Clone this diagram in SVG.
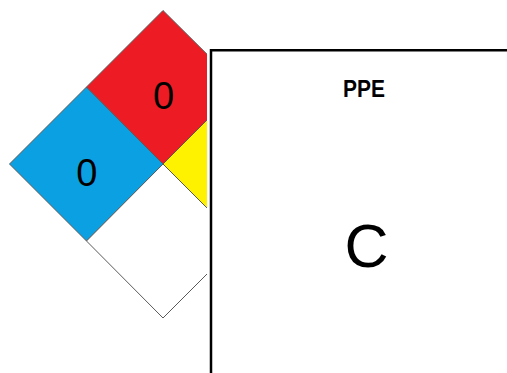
<svg xmlns="http://www.w3.org/2000/svg" width="507" height="373" viewBox="0 0 507 373">
<defs>
<style>
.q{stroke:#5a5a5a;stroke-width:1;stroke-linejoin:miter}
.num{font-family:"Liberation Sans",Arial,sans-serif;font-size:38px;fill:#000;text-anchor:middle}
</style>
<clipPath id="cl"><rect x="0" y="0" width="207" height="373"/></clipPath>
</defs>
<rect width="507" height="373" fill="#fff"/>
<g id="diamond" clip-path="url(#cl)">
<g id="health"><polygon class="q" points="9.5,164 86.5,87 163,164 86.5,241" fill="#0AA0E2"/></g>
<g id="flammability"><polygon class="q" points="86.5,87 163,10.5 240,87 163,164" fill="#ED1C24"/></g>
<g id="instability"><polygon class="q" points="163,164 240,87 317,164 240,241" fill="#FFF200"/></g>
<g id="special"><polygon class="q" points="86.5,241 163,164 240,241 163,318" fill="#fff" stroke="#777"/></g>
</g>
<text class="num" x="163.5" y="108.5">0</text>
<text class="num" x="86.7" y="186">0</text>
<g id="ppe-box">
<path d="M211,373 V50.2 H507" fill="none" stroke="#000" stroke-width="2.5"/>
<text x="364" y="96.5" font-family="'Liberation Sans',Arial,sans-serif" font-weight="bold" font-size="24" text-anchor="middle" textLength="42" lengthAdjust="spacingAndGlyphs">PPE</text>
<text x="366.5" y="266.5" font-family="'Liberation Sans',Arial,sans-serif" font-size="61" text-anchor="middle">C</text>
</g>
</svg>
